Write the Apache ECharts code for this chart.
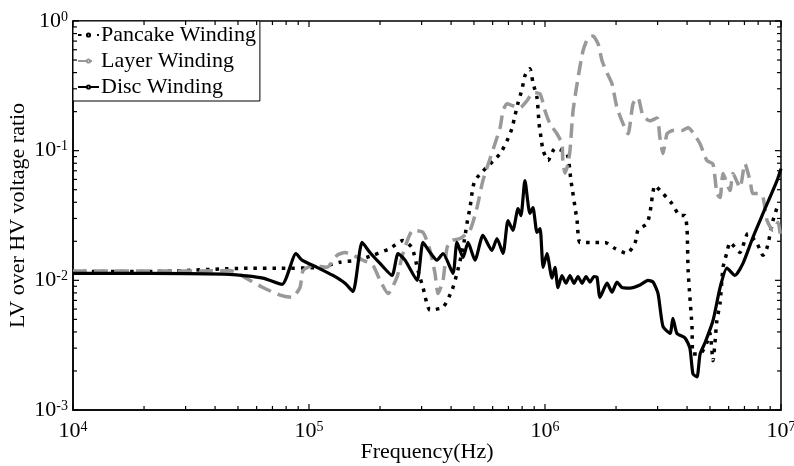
<!DOCTYPE html>
<html>
<head>
<meta charset="utf-8">
<script src="https://cdn.jsdelivr.net/npm/echarts@6/dist/echarts.min.js"></script>
<style>html,body{margin:0;padding:0;background:#fff}#c{width:794px;height:466px}</style>
</head>
<body>
<div id="c"></div>
<script>
// ---- data (frequency in Hz, LV/HV voltage ratio) ----
var pancakeFreq = [1e4, 2.12e4, 5.62e4, 7.54e4, 1.113e5, 1.353e5, 1.597e5, 1.866e5, 2.203e5, 2.5e5, 2.73e5, 2.897e5, 3.041e5, 3.258e5, 3.698e5, 4.036e5, 4.236e5, 4.497e5, 4.67e5, 4.81e5, 5.05e5, 6.45e5, 6.9e5, 7.24e5, 7.46e5, 7.69e5, 8.0e5, 8.22e5, 8.63e5, 8.89e5, 9.25e5, 9.44e5, 9.62e5, 9.82e5, 1.03e6, 1.102e6, 1.239e6, 1.288e6, 1.367e6, 1.406e6, 1.581e6, 1.795e6, 1.981e6, 2.223e6, 2.404e6, 2.477e6, 2.704e6, 2.786e6, 2.924e6, 3.162e6, 3.451e6, 3.733e6, 3.917e6, 4.0e6, 4.04e6, 4.111e6, 4.197e6, 4.236e6, 4.54e6, 4.85e6, 5.0e6, 5.15e6, 5.35e6, 5.52e6, 5.68e6, 5.9e6, 6.08e6, 6.7e6, 7.24e6, 7.91e6, 8.39e6, 8.73e6, 9.25e6, 9.62e6];
var pancakeRatio = [0.0117, 0.0117, 0.0124, 0.0124, 0.0126, 0.0138, 0.0143, 0.0156, 0.0176, 0.0203, 0.0179, 0.0119, 0.0088, 0.0059, 0.0062, 0.0084, 0.0113, 0.0179, 0.0274, 0.0364, 0.0588, 0.0948, 0.119, 0.148, 0.186, 0.234, 0.300, 0.378, 0.428, 0.334, 0.256, 0.161, 0.126, 0.100, 0.084, 0.104, 0.095, 0.0588, 0.0289, 0.0196, 0.0196, 0.0196, 0.0176, 0.0161, 0.0193, 0.0243, 0.0274, 0.0334, 0.0538, 0.0467, 0.0391, 0.0316, 0.0316, 0.0243, 0.0119, 0.0074, 0.0044, 0.0027, 0.0027, 0.0033, 0.0039, 0.0024, 0.0049, 0.0067, 0.0126, 0.0164, 0.0196, 0.0164, 0.0230, 0.0193, 0.0156, 0.0179, 0.0289, 0.0364];

var layerFreq = [1e4, 3.45e4, 4.62e4, 5.62e4, 6.38e4, 7.54e4, 8.47e4, 9.16e4, 9.44e4, 1.04e5, 1.191e5, 1.315e5, 1.421e5, 1.536e5, 1.694e5, 1.866e5, 2.0e5, 2.163e5, 2.36e5, 2.5e5, 2.76e5, 3.041e5, 3.258e5, 3.42e5, 3.52e5, 3.698e5, 3.846e5, 4.036e5, 4.365e5, 4.81e5, 5.15e5, 5.458e5, 6.45e5, 6.64e5, 6.9e5, 7.31e5, 7.83e5, 8.39e5, 8.89e5, 9.53e5, 1.0e6, 1.05e6, 1.124e6, 1.18e6, 1.19e6, 1.216e6, 1.251e6, 1.276e6, 1.315e6, 1.38e6, 1.449e6, 1.521e6, 1.596e6, 1.679e6, 1.746e6, 1.832e6, 1.923e6, 2.018e6, 2.143e6, 2.249e6, 2.36e6, 2.477e6, 2.6e6, 2.786e6, 2.985e6, 3.069e6, 3.162e6, 3.289e6, 3.483e6, 3.81e6, 4.04e6, 4.236e6, 4.54e6, 4.85e6, 5.15e6, 5.35e6, 5.52e6, 5.68e6, 6.08e6, 6.26e6, 6.7e6, 7.03e6, 7.39e6, 7.6e6, 8.0e6, 8.39e6, 8.73e6, 9.25e6, 9.71e6, 1e7];
var layerRatio = [0.0118, 0.0118, 0.0119, 0.0100, 0.0088, 0.0077, 0.0074, 0.0088, 0.0119, 0.0130, 0.0126, 0.0156, 0.0164, 0.0156, 0.0143, 0.0130, 0.0100, 0.0079, 0.0106, 0.0161, 0.0243, 0.0234, 0.0170, 0.0113, 0.0079, 0.0100, 0.0179, 0.0203, 0.0210, 0.0243, 0.0364, 0.0588, 0.150, 0.203, 0.230, 0.222, 0.214, 0.243, 0.280, 0.274, 0.203, 0.161, 0.135, 0.113, 0.084, 0.067, 0.079, 0.100, 0.203, 0.364, 0.588, 0.740, 0.767, 0.665, 0.492, 0.398, 0.328, 0.214, 0.161, 0.135, 0.230, 0.256, 0.186, 0.170, 0.179, 0.126, 0.095, 0.135, 0.143, 0.143, 0.150, 0.138, 0.113, 0.084, 0.079, 0.0467, 0.0435, 0.0666, 0.0492, 0.0666, 0.0519, 0.0794, 0.0588, 0.0467, 0.0467, 0.0435, 0.0289, 0.0243, 0.0280, 0.0204];

var discFreq = [1e4, 2.12e4, 4.62e4, 6.38e4, 7.69e4, 8.81e4, 9.34e4, 1.081e5, 1.264e5, 1.421e5, 1.536e5, 1.679e5, 1.812e5, 2.0e5, 2.248e5, 2.384e5, 2.553e5, 2.871e5, 3.041e5, 3.258e5, 3.483e5, 3.698e5, 4.074e5, 4.236e5, 4.497e5, 4.72e5, 5.05e5, 5.458e5, 5.957e5, 6.26e5, 6.64e5, 6.97e5, 7.31e5, 7.69e5, 7.91e5, 8.22e5, 8.63e5, 8.89e5, 9.25e5, 9.53e5, 9.82e5, 1.019e6, 1.071e6, 1.102e6, 1.135e6, 1.18e6, 1.227e6, 1.276e6, 1.327e6, 1.38e6, 1.435e6, 1.492e6, 1.552e6, 1.613e6, 1.66e6, 1.71e6, 1.832e6, 1.923e6, 2.018e6, 2.118e6, 2.291e6, 2.527e6, 2.73e6, 2.87e6, 3.013e6, 3.162e6, 3.388e6, 3.483e6, 3.622e6, 3.917e6, 4.111e6, 4.236e6, 4.406e6, 4.54e6, 4.764e6, 5.152e6, 5.52e6, 5.9e6, 6.38e6, 6.9e6, 7.6e6, 8.39e6, 9.62e6, 1e7];
var discRatio = [0.0113, 0.0113, 0.0111, 0.0104, 0.0093, 0.0161, 0.0143, 0.0126, 0.0109, 0.0095, 0.0082, 0.0196, 0.0164, 0.0135, 0.0109, 0.0161, 0.0143, 0.0100, 0.0196, 0.0164, 0.0143, 0.0161, 0.0113, 0.0196, 0.0150, 0.0196, 0.0143, 0.0222, 0.0170, 0.0210, 0.0161, 0.0289, 0.0243, 0.0358, 0.0316, 0.0588, 0.0328, 0.0364, 0.0234, 0.0251, 0.0126, 0.0161, 0.0104, 0.0126, 0.0088, 0.0109, 0.0095, 0.0109, 0.0095, 0.0107, 0.0095, 0.0107, 0.0097, 0.0107, 0.0106, 0.0074, 0.0095, 0.0081, 0.0097, 0.0088, 0.0087, 0.0092, 0.0100, 0.0097, 0.0079, 0.0044, 0.0039, 0.0051, 0.0039, 0.0036, 0.0030, 0.0019, 0.0018, 0.0027, 0.0033, 0.0049, 0.0088, 0.0124, 0.0109, 0.0135, 0.0214, 0.0328, 0.0588, 0.0727];

var seriesNames = ['Pancake Winding', 'Layer Winding', 'Disc Winding'];
var xRange = [1e4, 1e7];
var yRange = [1e-3, 1];
var xMajorTicks = [1e4, 1e5, 1e6, 1e7];
var xMinorTicks = [2e4,3e4,4e4,5e4,6e4,7e4,8e4,9e4, 2e5,3e5,4e5,5e5,6e5,7e5,8e5,9e5, 2e6,3e6,4e6,5e6,6e6,7e6,8e6,9e6];
var yMajorTicks = [1e-3, 1e-2, 1e-1, 1];
var yMinorTicks = [2e-3,3e-3,4e-3,5e-3,6e-3,7e-3,8e-3,9e-3, 2e-2,3e-2,4e-2,5e-2,6e-2,7e-2,8e-2,9e-2, 2e-1,3e-1,4e-1,5e-1,6e-1,7e-1,8e-1,9e-1];

// ---- chart ----
var FONT = 'Liberation Serif';
function zip(a, b) { return a.map(function (v, i) { return [v, b[i]]; }); }

function tickSeries(values, dir, len) {
  return {
    type: 'custom', silent: true, z: 5, clip: false,
    data: values.map(function (v) { return dir === 'x' ? [v, 0.01] : [1e5, v]; }),
    renderItem: function (params, api) {
      var cs = params.coordSys;
      var st = { stroke: '#000', lineWidth: 1.2 };
      if (dir === 'x') {
        var x = api.coord([api.value(0), 0.01])[0];
        return { type: 'group', children: [
          { type: 'line', shape: { x1: x, y1: cs.y + cs.height, x2: x, y2: cs.y + cs.height - len }, style: st },
          { type: 'line', shape: { x1: x, y1: cs.y, x2: x, y2: cs.y + len }, style: st }
        ]};
      } else {
        var y = api.coord([1e5, api.value(1)])[1];
        return { type: 'group', children: [
          { type: 'line', shape: { x1: cs.x, y1: y, x2: cs.x + len, y2: y }, style: st },
          { type: 'line', shape: { x1: cs.x + cs.width, y1: y, x2: cs.x + cs.width - len, y2: y }, style: st }
        ]};
      }
    }
  };
}

var richLabel = {
  a: { fontFamily: FONT, fontSize: 22, color: '#000', lineHeight: 22 },
  b: { fontFamily: FONT, fontSize: 14, color: '#000', verticalAlign: 'top', lineHeight: 14 }
};
function powLabel(v) {
  var e = Math.round(Math.log10(v));
  return '{a|10}{b|' + e + '}';
}

var chart = echarts.init(document.getElementById('c'), null, { renderer: 'canvas' });
chart.setOption({
  animation: false,
  backgroundColor: '#fff',
  grid: { left: 73, right: 13, top: 21, bottom: 56, containLabel: false, outerBoundsMode: 'none',
          show: true, borderColor: '#000', borderWidth: 1.5, backgroundColor: 'transparent' },
  legend: {
    data: seriesNames,
    orient: 'vertical', left: 73, top: 21,
    backgroundColor: '#fff', borderColor: '#000', borderWidth: 1,
    padding: [3, 4, 3, 4], itemGap: 4, itemWidth: 21, itemHeight: 4,
    textStyle: { fontFamily: FONT, fontSize: 22, color: '#000', lineHeight: 22, padding: [0, 0, 0, -3] }
  },
  xAxis: {
    type: 'log', logBase: 10, min: xRange[0], max: xRange[1], splitNumber: 3,
    name: 'Frequency(Hz)', nameLocation: 'middle', nameGap: 31, nameMoveOverlap: false,
    nameTextStyle: { fontFamily: FONT, fontSize: 22, color: '#000' },
    axisLine: { show: true, lineStyle: { color: '#000', width: 1.5 } },
    axisTick: { show: false }, splitLine: { show: false },
    axisLabel: { margin: 10, formatter: powLabel, rich: richLabel }
  },
  yAxis: {
    type: 'log', logBase: 10, min: yRange[0], max: yRange[1], splitNumber: 3,
    name: 'LV over HV voltage ratio', nameLocation: 'middle', nameGap: 44, nameMoveOverlap: false,
    nameTextStyle: { fontFamily: FONT, fontSize: 22, color: '#000' },
    axisLine: { show: true, lineStyle: { color: '#000', width: 1.5 } },
    axisTick: { show: false }, splitLine: { show: false },
    axisLabel: { margin: 5, formatter: powLabel, rich: richLabel }
  },
  series: [
    { name: seriesNames[0], type: 'line', data: zip(pancakeFreq, pancakeRatio), showSymbol: false, smooth: 0.2, z: 2,
      lineStyle: { color: '#000', width: 3.5, type: [3.5, 6], cap: 'butt' }, itemStyle: { color: '#000' } },
    { name: seriesNames[1], type: 'line', data: zip(layerFreq, layerRatio), showSymbol: false, smooth: 0.2, z: 2,
      lineStyle: { color: '#999', width: 3.5, type: [14, 7], cap: 'butt' }, itemStyle: { color: '#999' } },
    { name: seriesNames[2], type: 'line', data: zip(discFreq, discRatio), showSymbol: false, smooth: 0.2, z: 3,
      lineStyle: { color: '#000', width: 3.2 }, itemStyle: { color: '#000' } },
    tickSeries(xMajorTicks, 'x', 6),
    tickSeries(xMinorTicks, 'x', 4),
    tickSeries(yMajorTicks, 'y', 6),
    tickSeries(yMinorTicks, 'y', 4)
  ]
});
</script>
</body>
</html>
